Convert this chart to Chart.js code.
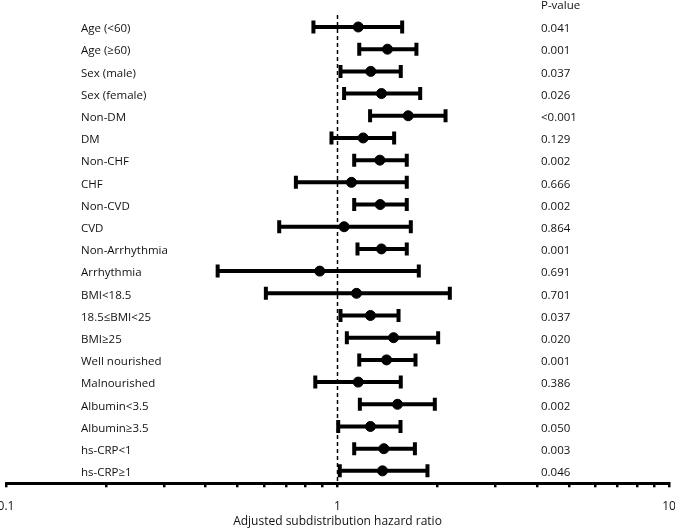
<!DOCTYPE html>
<html>
<head>
<meta charset="utf-8">
<script src="https://cdn.jsdelivr.net/npm/chart.js@4/dist/chart.umd.min.js"></script>
<style>
  body { margin: 0; background: #fff; }
  #wrap { width: 675px; height: 528px; position: relative; }
</style>
</head>
<body>
<div id="wrap"><canvas id="forestChart"></canvas></div>
<script>
// Subgroups, top to bottom
const subgroups = ['Age (<60)', 'Age (\u226560)', 'Sex (male)', 'Sex (female)', 'Non-DM', 'DM',
    'Non-CHF', 'CHF', 'Non-CVD', 'CVD', 'Non-Arrhythmia', 'Arrhythmia', 'BMI<18.5',
    '18.5\u2264BMI<25', 'BMI\u226525', 'Well nourished', 'Malnourished', 'Albumin<3.5',
    'Albumin\u22653.5', 'hs-CRP<1', 'hs-CRP\u22651'];
const hazardRatio = [1.155, 1.415, 1.26, 1.357, 1.634, 1.195, 1.342, 1.102, 1.345, 1.047, 1.357,
    0.884, 1.141, 1.257, 1.476, 1.406, 1.155, 1.517, 1.257, 1.38, 1.367];
const ciLower = [0.846, 1.163, 1.021, 1.047, 1.254, 0.959, 1.123, 0.749, 1.123, 0.667, 1.149,
    0.435, 0.608, 1.021, 1.067, 1.163, 0.857, 1.168, 1.005, 1.123, 1.016];
const ciUpper = [1.567, 1.73, 1.552, 1.776, 2.118, 1.482, 1.618, 1.618, 1.618, 1.664, 1.618,
    1.759, 2.182, 1.528, 2.012, 1.719, 1.552, 1.966, 1.549, 1.712, 1.868];
const pValues = ['0.041', '0.001', '0.037', '0.026', '<0.001', '0.129', '0.002', '0.666', '0.002',
    '0.864', '0.001', '0.691', '0.701', '0.037', '0.020', '0.001', '0.386', '0.002', '0.050',
    '0.003', '0.046'];
const tickValues = [0.1, 0.2, 0.3, 0.4, 0.5, 0.6, 0.7, 0.8, 0.9, 1, 2, 3, 4, 5, 6, 7, 8, 9, 10];
const tickLabels = { 0.1: '0.1', 1: '1', 10: '10' };

const FONT = '"Open Sans", "Noto Sans", sans-serif';

// one line dataset per subgroup for the CI whisker, caps drawn as rotated 'line' points
const ciSets = subgroups.map((name, i) => ({
    type: 'line',
    label: name,
    data: [{ x: ciLower[i], y: i }, { x: ciUpper[i], y: i }],
    borderColor: '#000',
    borderWidth: 4,
    pointStyle: 'line',
    rotation: 90,
    pointRadius: 6.5,
    pointBorderWidth: 4,
    pointBorderColor: '#000',
    order: 1
}));

// text drawn next to the plot: subgroup names, p-values and header
const sideText = {
    id: 'sideText',
    afterDraw(chart) {
        const ctx = chart.ctx;
        const y = chart.scales.y;
        ctx.save();
        ctx.font = '11.5px ' + FONT;
        ctx.fillStyle = '#111';
        ctx.textBaseline = 'middle';
        ctx.textAlign = 'left';
        subgroups.forEach((name, i) => {
            const py = y.getPixelForValue(i) + 2;
            ctx.fillText(name, 81, py);
            ctx.fillText(pValues[i], 541, py);
        });
        ctx.fillText('P-value', 541, y.getPixelForValue(-0.99) + 1);
        ctx.restore();
    }
};

new Chart(document.getElementById('forestChart'), {
    type: 'scatter',
    data: {
        datasets: [{
            label: 'HR',
            data: hazardRatio.map((v, i) => ({ x: v, y: i })),
            backgroundColor: '#000',
            borderColor: '#000',
            pointRadius: 5,
            order: 0
        }, ...ciSets, {
            type: 'line',
            label: 'ref',
            data: [{ x: 1, y: -0.54 }, { x: 1, y: 20.56 }],
            borderColor: '#000',
            borderWidth: 1.5,
            borderDash: [4, 3],
            pointRadius: 0,
            order: 2
        }]
    },
    options: {
        responsive: true,
        maintainAspectRatio: false,
        animation: false,
        layout: { autoPadding: false, padding: { left: 0, right: 0, top: 0, bottom: 0 } },
        plugins: { legend: { display: false }, tooltip: { enabled: false } },
        scales: {
            x: {
                type: 'logarithmic',
                min: 0.1,
                max: 10,
                afterBuildTicks: scale => { scale.ticks = tickValues.map(v => ({ value: v })); },
                afterFit: scale => { scale.paddingLeft = 6; scale.paddingRight = 6; },
                ticks: {
                    autoSkip: false,
                    maxRotation: 0,
                    color: '#111',
                    font: { family: FONT, size: 12 },
                    padding: 12.5,
                    callback: v => tickLabels[v] || ''
                },
                grid: { drawOnChartArea: false, drawTicks: true, tickLength: 4, color: '#000', lineWidth: 2.5 },
                border: { display: true, color: '#000', width: 3 },
                title: {
                    display: true,
                    text: 'Adjusted subdistribution hazard ratio',
                    color: '#111',
                    font: { family: FONT, size: 12, lineHeight: 1 },
                    padding: { top: -10.7, bottom: 0 }
                }
            },
            y: {
                type: 'linear',
                display: false,
                reverse: true,
                min: -1.216,
                max: 20.56
            }
        }
    },
    plugins: [sideText]
});
</script>
</body>
</html>
